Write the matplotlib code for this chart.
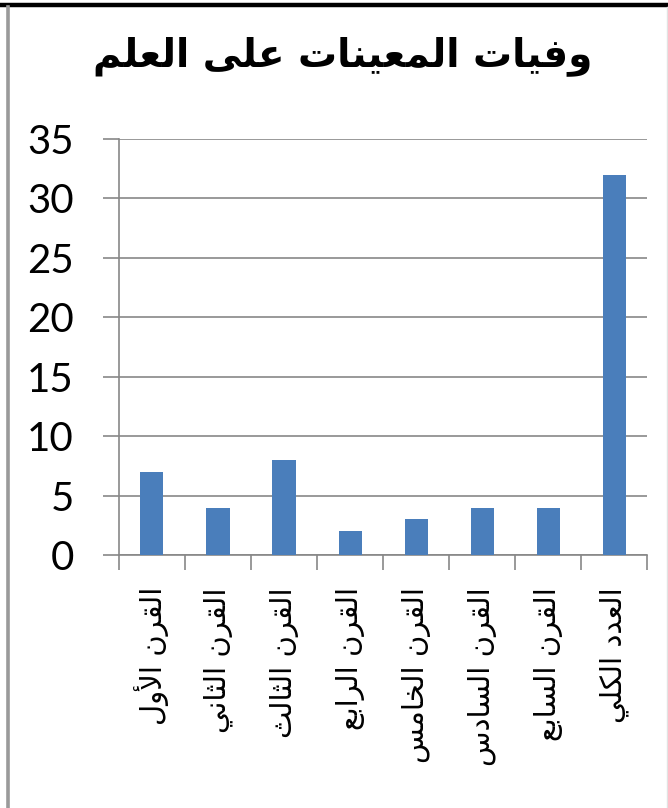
import matplotlib
matplotlib.use('Agg')
import matplotlib.pyplot as plt
from matplotlib.lines import Line2D
import numpy as np

title = "وفيات المعينات على العلم"
categories = ["القرن الأول", "القرن الثاني", "القرن الثالث", "القرن الرابع",
              "القرن الخامس", "القرن السادس", "القرن السابع", "العدد الكلي"]
deaths = [7, 4, 8, 2, 3, 4, 4, 32]
yticks = [0, 5, 10, 15, 20, 25, 30, 35]

# presentation forms: (isolated, final, initial, medial); two entries = joins on the right only
FORMS = {
    'ا': ('\uFE8D', '\uFE8E'), 'أ': ('\uFE83', '\uFE84'),
    'ب': ('\uFE8F', '\uFE90', '\uFE91', '\uFE92'), 'ت': ('\uFE95', '\uFE96', '\uFE97', '\uFE98'),
    'ث': ('\uFE99', '\uFE9A', '\uFE9B', '\uFE9C'), 'خ': ('\uFEA5', '\uFEA6', '\uFEA7', '\uFEA8'),
    'د': ('\uFEA9', '\uFEAA'), 'ر': ('\uFEAD', '\uFEAE'),
    'س': ('\uFEB1', '\uFEB2', '\uFEB3', '\uFEB4'), 'ع': ('\uFEC9', '\uFECA', '\uFECB', '\uFECC'),
    'ف': ('\uFED1', '\uFED2', '\uFED3', '\uFED4'), 'ق': ('\uFED5', '\uFED6', '\uFED7', '\uFED8'),
    'ك': ('\uFED9', '\uFEDA', '\uFEDB', '\uFEDC'), 'ل': ('\uFEDD', '\uFEDE', '\uFEDF', '\uFEE0'),
    'م': ('\uFEE1', '\uFEE2', '\uFEE3', '\uFEE4'), 'ن': ('\uFEE5', '\uFEE6', '\uFEE7', '\uFEE8'),
    'و': ('\uFEED', '\uFEEE'), 'ى': ('\uFEEF', '\uFEF0'),
    'ي': ('\uFEF1', '\uFEF2', '\uFEF3', '\uFEF4'),
}
LAM_ALEF = {'ا': ('\uFEFB', '\uFEFC'), 'أ': ('\uFEF7', '\uFEF8')}


def shape(text):
    """Join Arabic letters and reverse them into visual (left-to-right) order."""
    def joins_next(c):
        return c in FORMS and len(FORMS[c]) == 4
    chars = list(text)
    res = []
    i = 0
    while i < len(chars):
        c = chars[i]
        if c not in FORMS:
            res.append(c)
            i += 1
            continue
        join_prev = i > 0 and joins_next(chars[i - 1])
        if c == 'ل' and i + 1 < len(chars) and chars[i + 1] in LAM_ALEF:
            iso, fin = LAM_ALEF[chars[i + 1]]
            res.append(fin if join_prev else iso)
            i += 2
            continue
        nxt = chars[i + 1] if i + 1 < len(chars) else None
        join_next = joins_next(c) and nxt in FORMS
        f = FORMS[c]
        if join_prev and join_next:
            g = f[3]
        elif join_prev:
            g = f[1]
        elif join_next:
            g = f[2]
        else:
            g = f[0]
        res.append(g)
        i += 1
    return ''.join(reversed(res))


GRID = '#878787'
BAR = '#4A7EBB'

fig = plt.figure(figsize=(6.68, 8.08), dpi=100)
ax = fig.add_axes([0.178, 0.313, 0.791, 0.515])

x = np.arange(len(deaths))
ax.bar(x, deaths, width=0.35, color=BAR, zorder=3)

ax.set_xlim(-0.5, len(deaths) - 0.5)
ax.set_ylim(0, 35)
ax.set_yticks(yticks)
ax.set_yticklabels([str(v) for v in yticks], fontfamily='Lato', fontsize=29)
ax.yaxis.grid(True, color=GRID, linewidth=1.2, zorder=0)
ax.tick_params(axis='y', direction='out', length=11.5, width=1.2, color=GRID, pad=21)

# category labels on major ticks, boundary ticks as minor
ax.set_xticks(x)
ax.set_xticklabels([shape(c) for c in categories], rotation=90, va='top',
                   fontfamily='DejaVu Sans', fontsize=21)
ax.set_xticks(np.arange(len(deaths) + 1) - 0.5, minor=True)
ax.tick_params(axis='x', which='major', length=0, pad=23)
ax.tick_params(axis='x', which='minor', direction='out', length=11, width=1.2, color=GRID)

for s in ['top', 'right']:
    ax.spines[s].set_visible(False)
for s in ['left', 'bottom']:
    ax.spines[s].set_color(GRID)
    ax.spines[s].set_linewidth(1.2)

fig.text(0.513, 0.930, shape(title), ha='center', va='center',
         fontfamily='DejaVu Sans', fontweight='bold', fontsize=28)

# window frame around the chart
fig.add_artist(Line2D([0, 1], [0.9937, 0.9937], transform=fig.transFigure,
                      color='black', linewidth=3.2))
fig.add_artist(Line2D([0.0120, 0.0120], [0, 0.991], transform=fig.transFigure,
                      color='#9a9a9a', linewidth=2.6))
fig.add_artist(Line2D([0.9985, 0.9985], [0, 0.991], transform=fig.transFigure,
                      color='#e2e2e2', linewidth=1))

fig.savefig('out.png', dpi=100)
